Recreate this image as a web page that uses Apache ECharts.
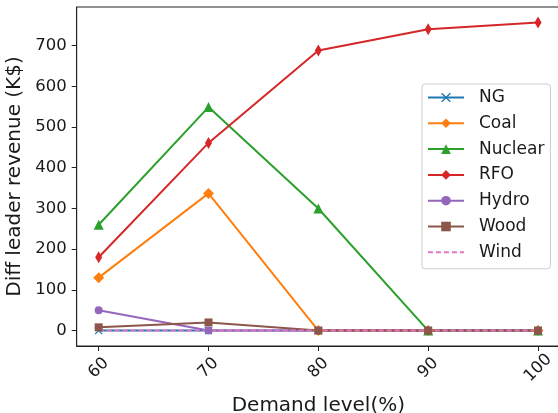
<!DOCTYPE html>
<html>
<head>
<meta charset="utf-8">
<script src="https://cdn.jsdelivr.net/npm/echarts@6/dist/echarts.min.js"></script>
<style>html,body{margin:0;padding:0;background:#fff}#c{width:558px;height:413px}</style>
</head>
<body>
<div id="c"></div>
<script>
const demand = [60, 70, 80, 90, 100];
const xTicks = [60, 70, 80, 90, 100];
const yTicks = [0, 100, 200, 300, 400, 500, 600, 700];
const NG = [0, 0, 0, 0, 0];
const Coal = [130, 337, 0, 0, 0];
const Nuclear = [260, 549, 300, 0, 0];
const RFO = [180, 461, 688, 740, 757];
const Hydro = [50, 0, 0, 0, 0];
const Wood = [8, 20, 0, 0, 0];
const Wind = [0, 0, 0, 0, 0];

const xMark = 'path://M0,1 L1,0 L5,4 L9,0 L10,1 L6,5 L10,9 L9,10 L5,6 L1,10 L0,9 L4,5 Z';
const defs = [
  {name: 'NG', data: NG, color: '#1f77b4', symbol: xMark, size: 8},
  {name: 'Coal', data: Coal, color: '#ff7f0e', symbol: 'diamond', size: 11},
  {name: 'Nuclear', data: Nuclear, color: '#2ca02c', symbol: 'triangle', size: 10},
  {name: 'RFO', data: RFO, color: '#d62728', symbol: 'diamond', size: [7, 12]},
  {name: 'Hydro', data: Hydro, color: '#9467bd', symbol: 'circle', size: 8},
  {name: 'Wood', data: Wood, color: '#8c564b', symbol: 'rect', size: 8},
  {name: 'Wind', data: Wind, color: '#e377c2', symbol: 'none', size: 0, dashed: true}
];

const series = defs.map(d => ({
  name: d.name,
  type: 'line',
  data: demand.map((x, i) => [x, d.data[i]]),
  symbol: d.symbol,
  symbolSize: d.size,
  showSymbol: d.symbol !== 'none',
  color: d.color,
  lineStyle: {width: 2, color: d.color, type: d.dashed ? [5, 3] : 'solid'},
  itemStyle: {color: d.color},
  animation: false,
  silent: true
}));

const chart = echarts.init(document.getElementById('c'), null, {renderer: 'canvas'});
chart.setOption({
  animation: false,
  backgroundColor: '#fff',
  grid: {left: 76.7, right: -2, top: 7, bottom: 67, show: true, borderColor: '#222', borderWidth: 1,
    backgroundColor: 'transparent', containLabel: false, outerBoundsMode: 'none'},
  xAxis: {
    type: 'value', min: 58, max: 102,
    name: 'Demand level(%)', nameLocation: 'middle', nameGap: 50,
    nameTextStyle: {fontFamily: 'DejaVu Sans', fontSize: 20, color: '#1a1a1a'},
    splitLine: {show: false},
    axisLine: {show: true, onZero: false, lineStyle: {color: '#222', width: 1}},
    axisTick: {show: true, length: 5, lineStyle: {color: '#222'}, customValues: xTicks},
    axisLabel: {customValues: xTicks, rotate: 45, align: 'center', verticalAlign: 'middle', margin: 22,
      hideOverlap: false, fontFamily: 'DejaVu Sans', fontSize: 16.5, color: '#1a1a1a'}
  },
  yAxis: {
    type: 'value', min: -37.85, max: 794.85,
    name: 'Diff leader revenue (K$)', nameLocation: 'middle', nameGap: 45,
    nameTextStyle: {fontFamily: 'DejaVu Sans', fontSize: 20, color: '#1a1a1a'},
    splitLine: {show: false},
    axisLine: {show: true, onZero: false, lineStyle: {color: '#222', width: 1}},
    axisTick: {show: true, length: 5, lineStyle: {color: '#222'}, customValues: yTicks},
    axisLabel: {customValues: yTicks, margin: 10, fontFamily: 'DejaVu Sans', fontSize: 16.5, color: '#1a1a1a'}
  },
  legend: {
    orient: 'vertical', left: 422, top: 84,
    padding: [5, 6, 8, 5],
    itemWidth: 36, itemHeight: 12, itemGap: 8.8,
    backgroundColor: 'rgba(255,255,255,0.8)', borderColor: '#cccccc', borderWidth: 1, borderRadius: 3,
    textStyle: {fontFamily: 'DejaVu Sans', fontSize: 17, lineHeight: 17, color: '#1a1a1a', padding: [0, 0, 0, 10]},
    data: defs.map(d => d.symbol === 'none' ? {name: d.name, itemStyle: {opacity: 0}} : d.name)
  },
  series: series
});
</script>
</body>
</html>
